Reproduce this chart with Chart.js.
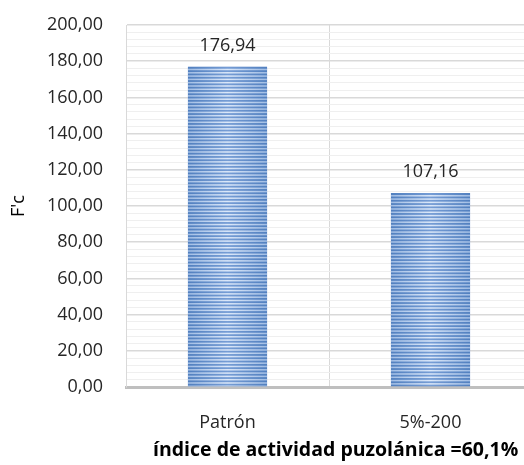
<!DOCTYPE html>
<html>
<head>
<meta charset="utf-8">
<script src="https://cdn.jsdelivr.net/npm/chart.js@4.4.1/dist/chart.umd.min.js"></script>
<style>
  html, body { margin: 0; padding: 0; background: #ffffff; overflow: hidden; }
  #wrap { width: 524px; height: 465px; overflow: hidden; }
  canvas { display: block; }
</style>
</head>
<body>
<div id="wrap"><canvas id="c" width="532" height="465"></canvas></div>
<script>
// Compressive strength (F'c) per mix
const categories = ['Patrón', '5%-200'];
const strengthValues = [176.94, 107.16];
const yTickLabels = ['0,00', '20,00', '40,00', '60,00', '80,00', '100,00', '120,00', '140,00', '160,00', '180,00', '200,00'];
const yAxisTitle = "F'c";
const xAxisTitle = 'índice de actividad puzolánica =60,1%';

const FONT = '"Open Sans", "Liberation Sans", sans-serif';
const fmt = v => v.toFixed(2).replace('.', ',');

// Striped, shaded bar fill drawn over each bar rectangle, plus value labels
const stripedBars = {
  id: 'stripedBars',
  afterDatasetsDraw(chart) {
    const ctx = chart.ctx;
    const meta = chart.getDatasetMeta(0);
    meta.data.forEach((bar, i) => {
      const p = bar.getProps(['x', 'y', 'base', 'width'], true);
      const left = p.x - p.width / 2, right = p.x + p.width / 2;
      const top = p.y, bottom = p.base;
      ctx.save();
      ctx.beginPath();
      ctx.rect(left, top, p.width, bottom - top);
      ctx.clip();
      const g = ctx.createLinearGradient(left, 0, right, 0);
      g.addColorStop(0, '#5280bf');
      g.addColorStop(0.5, '#769dd5');
      g.addColorStop(1, '#5280bf');
      ctx.fillStyle = g;
      ctx.fillRect(left, top, p.width, bottom - top);
      const gl = ctx.createLinearGradient(left, 0, right, 0);
      gl.addColorStop(0, 'rgba(175,200,235,0.85)');
      gl.addColorStop(0.5, 'rgba(225,236,251,0.95)');
      gl.addColorStop(1, 'rgba(175,200,235,0.85)');
      ctx.fillStyle = gl;
      for (let y = top + 2; y < bottom; y += 3.3) {
        ctx.fillRect(left, y, p.width, 1.5);
      }
      ctx.restore();
      ctx.save();
      ctx.fillStyle = '#262626';
      ctx.font = '18px ' + FONT;
      ctx.textAlign = 'center';
      ctx.textBaseline = 'middle';
      ctx.fillText(fmt(strengthValues[i]), p.x, top - 21);
      ctx.restore();
    });
  },
  afterDraw(chart) {
    // bold caption under the category labels
    const ctx = chart.ctx;
    const a = chart.chartArea;
    ctx.save();
    ctx.fillStyle = '#000000';
    ctx.font = 'bold 19.5px ' + FONT;
    ctx.textAlign = 'left';
    ctx.textBaseline = 'middle';
    ctx.fillText(xAxisTitle, a.left + 27, a.bottom + 63);
    ctx.restore();
  }
};

new Chart(document.getElementById('c'), {
  type: 'bar',
  data: {
    labels: categories,
    datasets: [{
      data: strengthValues,
      backgroundColor: '#5f8bc9',
      borderWidth: 0,
      barPercentage: 0.78,
      categoryPercentage: 0.5
    }]
  },
  options: {
    responsive: false,
    animation: false,
    devicePixelRatio: 1,
    layout: { padding: { left: 0, right: 0, top: 0, bottom: 0 } },
    plugins: { legend: { display: false }, tooltip: { enabled: false } },
    scales: {
      x: {
        offset: true,
        afterFit(scale) { scale.height = 78; },
        grid: { display: true, offset: true, color: '#d9d9d9', lineWidth: 1, drawTicks: false },
        border: { display: true, color: '#bfbfbf', width: 3 },
        ticks: { color: '#262626', font: { family: FONT, size: 18 }, padding: 25 }
      },
      y: {
        min: 0, max: 200,
        afterFit(scale) {
          scale.width = 126;
          scale.paddingTop = 25;
          scale.paddingBottom = 10;
        },
        ticks: {
          stepSize: 4, autoSkip: false, color: '#262626',
          font: { family: FONT, size: 18 }, padding: 23,
          callback: v => (v % 20 === 0 ? yTickLabels[v / 20] : '')
        },
        grid: {
          drawTicks: false,
          color: c => (c.tick && c.tick.value % 20 === 0 ? '#d9d9d9' : '#efefef'),
          lineWidth: c => (c.tick && c.tick.value % 20 === 0 ? 1.5 : 1)
        },
        border: { display: true, color: '#d9d9d9', width: 1 },
        title: {
          display: true, text: yAxisTitle, color: '#000000',
          font: { family: FONT, size: 18 }, padding: { top: 8, bottom: 0 }
        }
      }
    }
  },
  plugins: [stripedBars]
});
</script>
</body>
</html>
